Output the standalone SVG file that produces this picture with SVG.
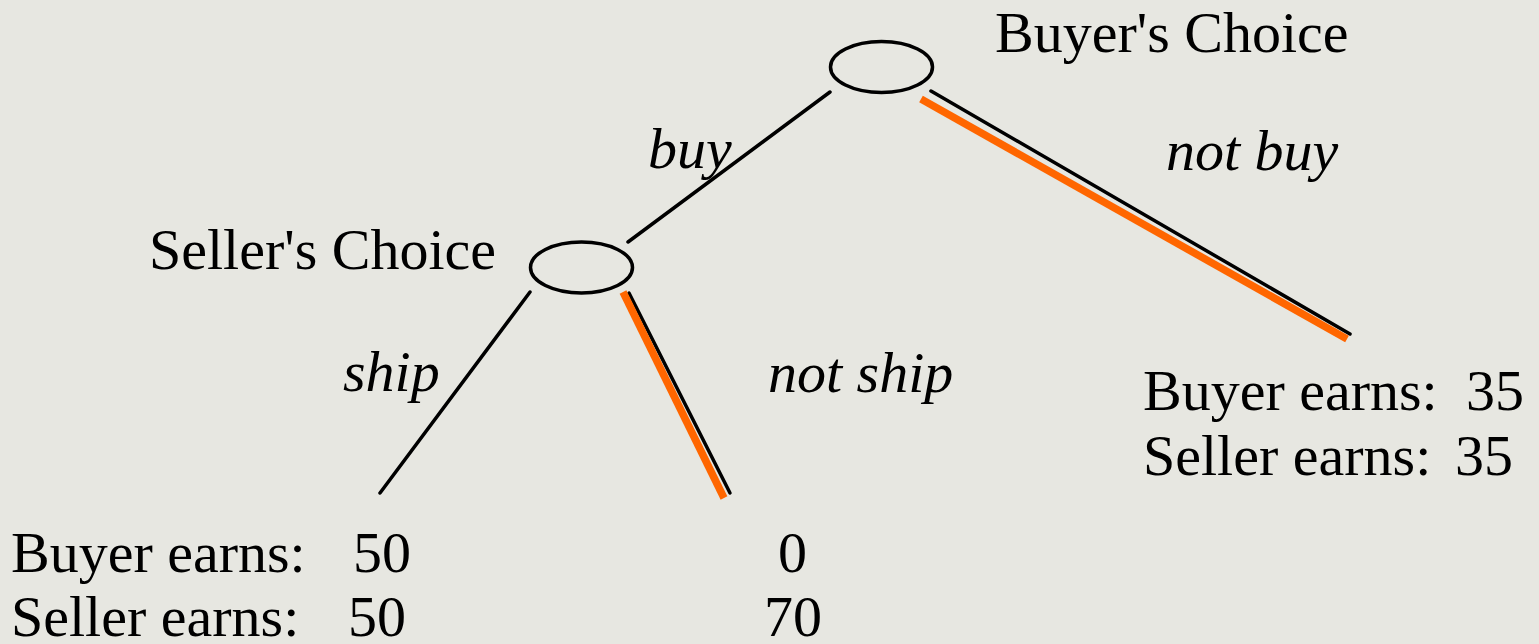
<svg xmlns="http://www.w3.org/2000/svg" width="1539" height="644" viewBox="0 0 1539 644">
<style>
.t{font-family:"Liberation Serif","Times New Roman",serif;font-size:58px;fill:#000}
.i{font-style:italic}
.node{fill:none;stroke:#000;stroke-width:3.5}
.edge{stroke:#000;stroke-width:3.5;stroke-linecap:round}
.hl{stroke:#FF6600;stroke-width:7.5}
</style>
<rect width="1539" height="644" fill="#E7E7E1"/>
<g id="connectors">
<line class="edge" x1="830" y1="92" x2="628" y2="242"/>
<line class="edge" x1="931" y1="91" x2="1350" y2="334"/>
<line class="hl" x1="921" y1="99" x2="1347" y2="339"/>
<line class="edge" x1="530" y1="292" x2="380" y2="493"/>
<line class="edge" x1="629" y1="293" x2="730" y2="493"/>
<line class="hl" x1="623" y1="292" x2="724" y2="498"/>
<text class="t i" x="648" y="168">buy</text>
<text class="t i" x="1166" y="170">not buy</text>
<text class="t i" x="343" y="391">ship</text>
<text class="t i" x="768" y="392">not ship</text>
</g>
<g id="buyer-choice">
<ellipse class="node" cx="881.5" cy="67" rx="51" ry="25.5"/>
<text class="t" x="995" y="52">Buyer's Choice</text>
</g>
<g id="seller-choice">
<ellipse class="node" cx="581.5" cy="267.5" rx="51" ry="25.5"/>
<text class="t" x="149" y="269">Seller's Choice</text>
</g>
<g id="outcome-ship">
<text class="t" x="11" y="572">Buyer earns:</text>
<text class="t" x="353" y="572">50</text>
<text class="t" x="11" y="636">Seller earns:</text>
<text class="t" x="348" y="636">50</text>
</g>
<g id="outcome-not-ship">
<text class="t" x="778" y="572">0</text>
<text class="t" x="764" y="636">70</text>
</g>
<g id="outcome-not-buy">
<text class="t" x="1143" y="410">Buyer earns:</text>
<text class="t" x="1466" y="410">35</text>
<text class="t" x="1143" y="475">Seller earns:</text>
<text class="t" x="1455" y="475">35</text>
</g>
</svg>
